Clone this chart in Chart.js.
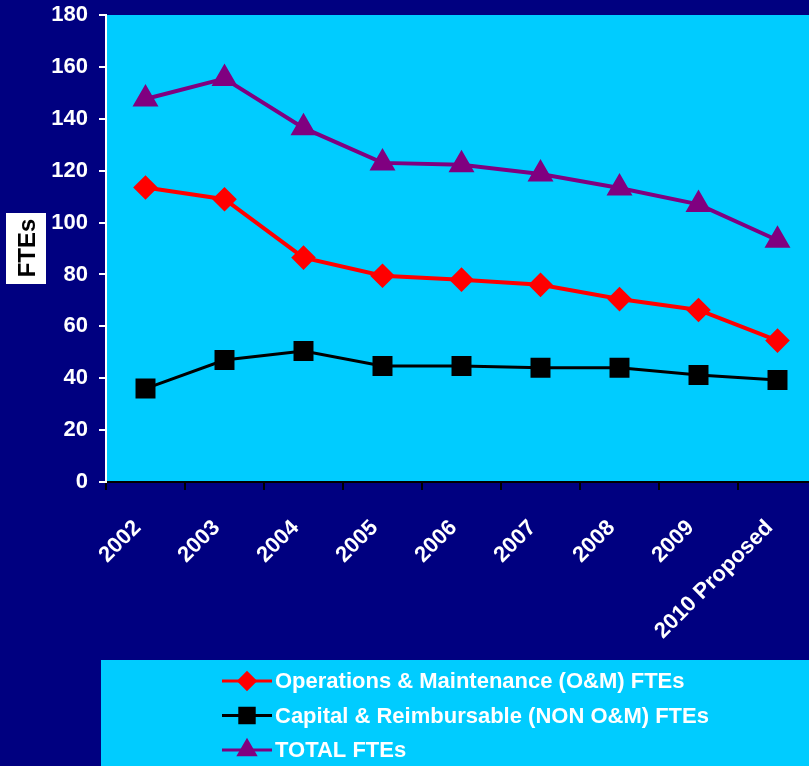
<!DOCTYPE html>
<html>
<head>
<meta charset="utf-8">
<script src="https://cdn.jsdelivr.net/npm/chart.js@4.4.1/dist/chart.umd.min.js"></script>
<style>
  html, body { margin: 0; padding: 0; background: #000080; overflow: hidden; }
  #grafico { display: block; }
</style>
</head>
<body>
<canvas id="grafico" width="832" height="766"></canvas>
<script>
const anos = ['2002', '2003', '2004', '2005', '2006', '2007', '2008', '2009', '2010 Proposed']
const om_ftes = [113.5, 109, 86.5, 79.5, 78, 76, 70.5, 66.3, 54.5]
const capital_ftes = [36, 47, 50.5, 44.7, 44.7, 44, 44, 41.2, 39.3]
const total_ftes = [147.6, 155.5, 136.5, 123, 122.3, 118.7, 113.3, 107, 93.2]
const y_ticks = [0, 20, 40, 60, 80, 100, 120, 140, 160, 180]

const fonte = 'Liberation Sans, Arial, sans-serif'

// fundo azul escuro e area do grafico ciano
const fundo = {
  id: 'fundo',
  beforeDraw: chart => {
    const { ctx, chartArea: a } = chart
    ctx.save()
    ctx.fillStyle = '#000080'
    ctx.fillRect(0, 0, chart.width, chart.height)
    ctx.fillStyle = '#00CCFF'
    ctx.fillRect(a.left, a.top, a.right - a.left, a.bottom - a.top)
    ctx.restore()
  }
}

// titulo do eixo y numa caixa branca
const titulo_y = {
  id: 'titulo_y',
  afterDraw: chart => {
    const ctx = chart.ctx
    ctx.save()
    ctx.fillStyle = '#FFFFFF'
    ctx.fillRect(6, 213, 40, 71)
    ctx.translate(27, 248)
    ctx.rotate(-Math.PI / 2)
    ctx.fillStyle = '#000000'
    ctx.font = `bold 24px ${fonte}`
    ctx.textAlign = 'center'
    ctx.textBaseline = 'middle'
    ctx.fillText('FTEs', 0, 1)
    ctx.restore()
  }
}

// legenda desenhada embaixo, numa caixa ciano
const legenda = {
  id: 'legenda',
  afterDraw: chart => {
    const ctx = chart.ctx
    ctx.save()
    ctx.fillStyle = '#00CCFF'
    ctx.fillRect(101, 660, chart.width - 101, chart.height - 660)
    chart.data.datasets.forEach((ds, i) => {
      const y = 681 + i * 34.5
      ctx.strokeStyle = ds.borderColor
      ctx.lineWidth = 3
      ctx.beginPath()
      ctx.moveTo(222, y)
      ctx.lineTo(272, y)
      ctx.stroke()
      Chart.helpers.drawPoint(ctx, {
        pointStyle: ds.pointStyle,
        radius: ds.pointRadius * 0.85,
        borderWidth: 1
      }, 247, y)
      ctx.fillStyle = ds.pointBackgroundColor
      ctx.strokeStyle = ds.pointBorderColor
      ctx.fill()
      ctx.fillStyle = '#FFFFFF'
      ctx.font = `bold 22px ${fonte}`
      ctx.textAlign = 'left'
      ctx.textBaseline = 'middle'
      ctx.fillText(ds.label, 275, y + 1)
    })
    ctx.restore()
  }
}

const serie = (label, dados, cor, estilo, raio, largura) => ({
  label: label,
  data: dados,
  borderColor: cor,
  backgroundColor: cor,
  pointBackgroundColor: cor,
  pointBorderColor: cor,
  borderWidth: largura,
  pointStyle: estilo,
  pointRadius: raio,
  pointHoverRadius: raio,
  tension: 0
})

new Chart(document.getElementById('grafico'), {
  type: 'line',
  data: {
    labels: anos,
    datasets: [
      serie('Operations & Maintenance (O&M) FTEs', om_ftes, '#FF0000', 'rectRot', 9.5, 4),
      serie('Capital & Reimbursable (NON O&M) FTEs', capital_ftes, '#000000', 'rect', 12, 3),
      serie('TOTAL FTEs', total_ftes, '#800080', 'triangle', 11, 4)
    ]
  },
  options: {
    responsive: false,
    devicePixelRatio: 1,
    animation: false,
    layout: { padding: { top: 15, left: 0, right: 1, bottom: 106 } },
    plugins: {
      legend: { display: false },
      tooltip: { enabled: false }
    },
    scales: {
      x: {
        offset: true,
        grid: {
          display: true,
          offset: true,
          drawOnChartArea: false,
          drawTicks: true,
          tickLength: 8,
          color: '#000000',
          lineWidth: 2
        },
        border: { color: '#000000', width: 2 },
        ticks: {
          color: '#FFFFFF',
          font: { family: fonte, size: 22, weight: 'bold' },
          maxRotation: 45,
          minRotation: 45,
          padding: 25,
          labelOffset: -8,
          autoSkip: false
        },
        afterFit: scale => {
          scale.height = 178
          scale.paddingLeft = 0
          scale.paddingRight = 0
        }
      },
      y: {
        min: 0,
        max: 180,
        afterBuildTicks: scale => { scale.ticks = y_ticks.map(v => ({ value: v })) },
        grid: {
          display: true,
          drawOnChartArea: false,
          drawTicks: true,
          tickLength: 7,
          color: '#FFFFFF',
          lineWidth: 2
        },
        border: { color: '#FFFFFF', width: 2 },
        ticks: {
          color: '#FFFFFF',
          font: { family: fonte, size: 22, weight: 'bold' },
          padding: 11
        },
        afterFit: scale => {
          scale.width = 106
          scale.paddingTop = 0
          scale.paddingBottom = 0
        }
      }
    }
  },
  plugins: [fundo, titulo_y, legenda]
})
</script>
</body>
</html>
